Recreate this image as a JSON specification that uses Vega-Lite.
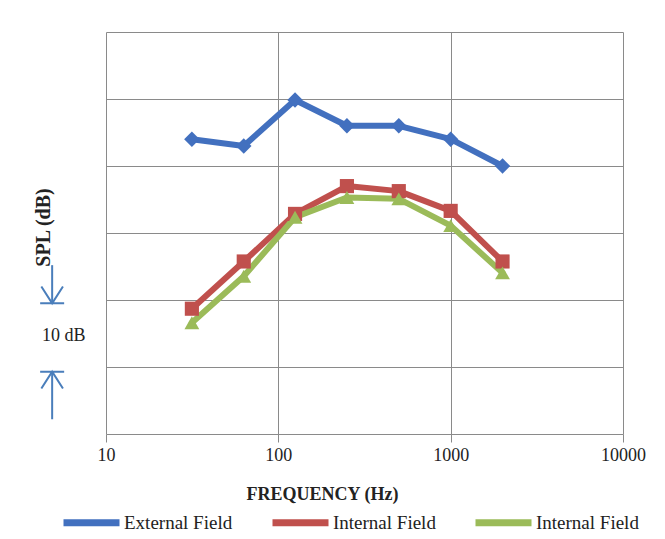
{
  "$schema": "https://vega.github.io/schema/vega-lite/v6.json",
  "width": 517,
  "height": 402,
  "autosize": {"type": "none"},
  "padding": {"left": 106, "top": 32, "right": 42, "bottom": 105},
  "background": "white",
  "config": {"view": {"stroke": null}, "font": "Liberation Serif"},
  "layer": [
    {
      "data": {"values": [
        {"freq": 31.5, "spl": 44.0, "series": "ext"},
        {"freq": 63, "spl": 43.0, "series": "ext"},
        {"freq": 125, "spl": 49.85, "series": "ext"},
        {"freq": 250, "spl": 46.0, "series": "ext"},
        {"freq": 500, "spl": 46.0, "series": "ext"},
        {"freq": 1000, "spl": 44.0, "series": "ext"},
        {"freq": 2000, "spl": 40.0, "series": "ext"},
        {"freq": 31.5, "spl": 18.7, "series": "int1"},
        {"freq": 63, "spl": 25.75, "series": "int1"},
        {"freq": 125, "spl": 32.85, "series": "int1"},
        {"freq": 250, "spl": 37.0, "series": "int1"},
        {"freq": 500, "spl": 36.25, "series": "int1"},
        {"freq": 1000, "spl": 33.3, "series": "int1"},
        {"freq": 2000, "spl": 25.75, "series": "int1"},
        {"freq": 31.5, "spl": 16.6, "series": "int2"},
        {"freq": 63, "spl": 23.55, "series": "int2"},
        {"freq": 125, "spl": 32.35, "series": "int2"},
        {"freq": 250, "spl": 35.3, "series": "int2"},
        {"freq": 500, "spl": 35.1, "series": "int2"},
        {"freq": 1000, "spl": 31.1, "series": "int2"},
        {"freq": 2000, "spl": 24.05, "series": "int2"}
      ]},
      "layer": [
        {
          "mark": {"type": "line", "strokeWidth": 6, "strokeJoin": "round", "strokeCap": "round"},
          "encoding": {
            "x": {
              "field": "freq", "type": "quantitative",
              "scale": {"type": "log", "domain": [10, 10000]},
              "axis": {
                "values": [10, 100, 1000, 10000], "format": "d",
                "grid": true, "gridColor": "#8a8a8a", "gridWidth": 1,
                "domain": false, "tickSize": 8, "tickColor": "#8a8a8a",
                "labelFont": "Liberation Serif", "labelFontSize": 18, "labelColor": "#222",
                "labelPadding": 4, "labelFlush": false, "labelOverlap": false,
                "title": "FREQUENCY (Hz)", "titleFont": "Liberation Serif", "titleFontSize": 18,
                "titleFontWeight": "bold", "titleColor": "#222", "titlePadding": 21, "titleX": 216
              }
            },
            "y": {
              "field": "spl", "type": "quantitative",
              "scale": {"domain": [0, 60]},
              "axis": {
                "values": [0, 10, 20, 30, 40, 50, 60],
                "grid": true, "gridColor": "#8a8a8a", "gridWidth": 1,
                "domain": false, "ticks": false, "labels": false,
                "title": "SPL (dB)", "titleFont": "Liberation Serif", "titleFontSize": 20,
                "titleFontWeight": "bold", "titleColor": "#222",
                "titleX": -63, "titleY": 195, "titleAngle": 270,
                "titleBaseline": "middle", "titleAlign": "center"
              }
            },
            "color": {
              "field": "series", "type": "nominal",
              "scale": {"domain": ["ext", "int1", "int2"], "range": ["#4270BF", "#C0504D", "#9BBB59"]},
              "legend": {
                "orient": "none", "legendX": -46, "legendY": 459, "direction": "horizontal",
                "title": null, "symbolType": "M-1,0H1", "symbolSize": 3136, "symbolStrokeWidth": 7,
                "labelFont": "Liberation Serif", "labelFontSize": 19, "labelColor": "#222",
                "labelOffset": 1, "columnPadding": 25,
                "labelExpr": "datum.value == 'ext' ? 'External Field' : 'Internal Field'"
              }
            }
          }
        },
        {
          "transform": [{"filter": "datum.series == 'ext'"}],
          "mark": {"type": "point", "filled": true, "opacity": 1, "size": 240, "shape": "diamond", "color": "#4270BF"},
          "encoding": {
            "x": {"field": "freq", "type": "quantitative"},
            "y": {"field": "spl", "type": "quantitative"}
          }
        },
        {
          "transform": [{"filter": "datum.series == 'int1'"}],
          "mark": {"type": "point", "filled": true, "opacity": 1, "size": 200, "shape": "square", "color": "#C0504D"},
          "encoding": {
            "x": {"field": "freq", "type": "quantitative"},
            "y": {"field": "spl", "type": "quantitative"}
          }
        },
        {
          "transform": [{"filter": "datum.series == 'int2'"}],
          "mark": {"type": "point", "filled": true, "opacity": 1, "size": 220, "shape": "triangle-up", "color": "#9BBB59"},
          "encoding": {
            "x": {"field": "freq", "type": "quantitative"},
            "y": {"field": "spl", "type": "quantitative"}
          }
        }
      ]
    },
    {
      "data": {"values": [
        {"freq": 4.87, "spl": 25.2, "spl2": 19.7},
        {"freq": 4.87, "spl": 9.3, "spl2": 2.2}
      ]},
      "mark": {"type": "rule", "color": "#4a7ebb", "strokeWidth": 2},
      "encoding": {
        "x": {"field": "freq", "type": "quantitative"},
        "y": {"field": "spl", "type": "quantitative"},
        "y2": {"field": "spl2"}
      }
    },
    {
      "data": {"values": [{"freq": 4.87, "spl": 19.5}]},
      "mark": {"type": "point", "shape": "M-0.9,-1.4L0,0L0.9,-1.4M-1,0H1", "filled": false, "color": "#4a7ebb", "strokeWidth": 2, "size": 576, "opacity": 1},
      "encoding": {
        "x": {"field": "freq", "type": "quantitative"},
        "y": {"field": "spl", "type": "quantitative"}
      }
    },
    {
      "data": {"values": [{"freq": 4.87, "spl": 9.3}]},
      "mark": {"type": "point", "shape": "M-0.9,1.4L0,0L0.9,1.4M-1,0H1", "filled": false, "color": "#4a7ebb", "strokeWidth": 2, "size": 576, "opacity": 1},
      "encoding": {
        "x": {"field": "freq", "type": "quantitative"},
        "y": {"field": "spl", "type": "quantitative"}
      }
    },
    {
      "data": {"values": [{"freq": 4.25, "spl": 14.6, "label": "10 dB"}]},
      "mark": {"type": "text", "align": "left", "baseline": "middle", "font": "Liberation Serif", "fontSize": 18, "color": "#222"},
      "encoding": {
        "x": {"field": "freq", "type": "quantitative"},
        "y": {"field": "spl", "type": "quantitative"},
        "text": {"field": "label"}
      }
    }
  ]
}
